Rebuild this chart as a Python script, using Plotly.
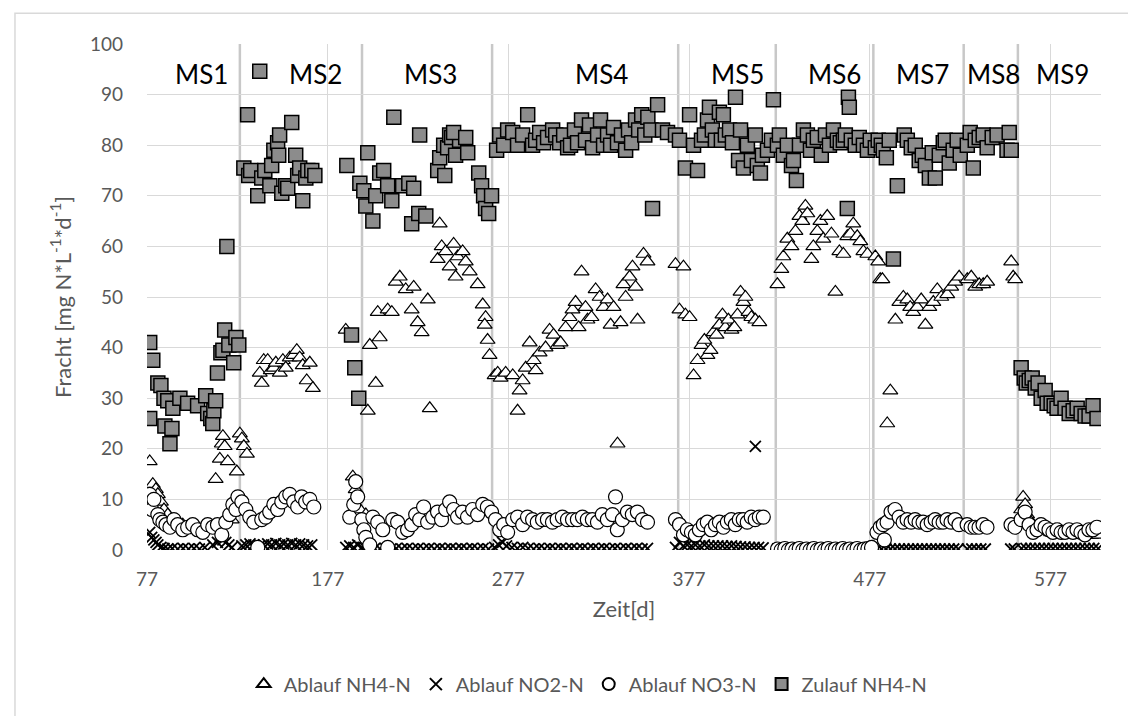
import plotly.graph_objects as go

# ---------------- data (day, value) ----------------
zul_day = [78.5, 80.2, 78.5, 83, 84.7, 86.4, 88.5, 86.9, 89.7, 90.8, 91.3, 95.2, 99.5, 105, 109.5, 110.6, 112.3, 113.4, 114, 115, 116, 117.9, 119, 120, 121.2, 122.3, 125, 126.2, 127.8,
           130.6, 132.7, 133.3, 134.4, 138.3, 139.4, 140.5, 142.2, 145, 146, 147.2, 149.3, 150.4, 149.9, 151.6, 153.8, 154.9, 157.1, 159.3, 160.4, 161.5, 163.2, 164.9, 166, 168.2, 169.9,
           187.6, 190.2, 192, 194.2, 194.8, 197, 199.2, 198.1, 202, 203.6, 205.8, 208, 210.2, 212.5, 213.6, 218.5, 221.9, 224.6, 223.5, 227.4, 227.9, 231.3, 237.9, 239, 241.2, 241.8, 243.4, 244.5, 245.6, 247.8, 250, 246.7, 253.4, 254.5, 260.6, 262.2, 263.3, 264.4, 266.1, 267.7,
           270.5, 272.2, 274.4, 276.6, 279.4, 282.1, 284.9, 287.7, 290.4, 292.1, 294.3, 296.5, 298.7, 301.5, 303.2, 305.4, 307.6, 309.8, 311.4, 313.6, 315.3, 317.5, 319.7, 321.9, 323.6, 326.4, 328, 329.7, 331.9, 333.6, 335.2, 337.4, 339.6, 341.9, 343.5, 345.2, 347.4, 349.1, 350.8, 352.5, 354.2, 355.9, 356.8, 359.6, 362.3, 365.1,
           369.5, 371.7, 375, 377.3, 379.5, 381.7, 383.9, 385.5, 387.2, 388.3, 389.9, 391.6, 393.8, 394.9, 396, 397.1, 399.4, 401, 402.7, 404.4, 405.5, 407.1, 409.3, 411.5, 413.7, 414.8, 416.5, 417.6, 420.4, 422.6, 423.7,
           425.9, 427, 429.2, 431.4, 433.7, 434.8, 436.4, 438.1, 440.3, 442.5, 444.2, 445.8, 448, 450.2, 452.5, 454.7, 456.9, 459.1, 460.7, 462.4, 463.5, 465.2, 465.7, 464.6, 466.8, 469, 471.2, 473.5, 475.7, 477.3,
           480.1, 481.7, 483.4, 484.5, 486.2, 487.8, 490.1, 492.3, 496.1, 497.8, 500, 502.2, 504.4, 506.1, 507.8, 510, 511.6, 513.3, 515.5, 517.7, 518.8, 521, 523.2, 525.4, 527.1,
           531, 532.6, 534.3, 535.4, 537.6, 539.8, 542, 544.8, 547.5, 553, 554.2, 555.3,
           560.8, 562.5, 563.6, 565.3, 566.9, 568.6, 570.2, 571.9, 574.1, 575.2, 577.4, 579.1, 580.7, 582.9, 585.1, 587.4, 589.6, 591.8, 594, 596.2, 598.4, 600.6, 602.8]
zul_val = [41, 37.5, 26, 33, 32.5, 30, 29.5, 24.5, 21, 24, 28, 30, 29, 28.5, 30.5, 27, 26, 25, 27.5, 29.5, 35, 39, 39.5, 43.5, 60, 40.5, 37, 42, 40.5,
           75.5, 86, 74, 75, 70, 94.6, 73.5, 75, 72, 76, 79, 80.5, 82, 78, 70.5, 72, 71.5, 84.5, 78, 74, 75.5, 69, 73.5, 75, 75, 74,
           76, 42.5, 36, 30, 72.5, 71, 78.5, 68, 65, 70, 74.5, 75, 72, 69, 85.5, 72, 72.5, 71.5, 64.5, 66.5, 82, 66, 75, 77.5, 80, 74, 79.5, 82, 81.5, 78, 81, 82.5, 81.5, 78.5, 74.5, 72, 70, 67.5, 66.5, 70,
           79, 82, 80, 83, 82.5, 80, 82, 86, 80, 81, 82.5, 80.5, 81.5, 83, 82, 80.5, 82, 79.5, 80, 83, 80.5, 85, 81, 84, 79.5, 82, 85, 80, 82, 80, 83.5, 80.5, 82, 79, 83, 80.5, 85, 83, 86, 82, 85.5, 83, 67.5, 88, 83, 82.5,
           82, 81, 75.5, 86, 80, 75, 81, 82, 85, 87.5, 83, 81, 86.5, 81, 86, 82, 83, 80.5, 89.5, 77, 83, 75.5, 80, 77, 82, 76, 74.5, 78, 79, 81, 89,
           80, 82, 78, 80, 76, 77, 73, 80, 83, 82, 79, 81, 81.5, 78, 82, 80, 83, 81, 80.5, 81, 82, 89.5, 87.5, 67.5, 81, 80, 81.5, 80, 79, 81,
           79.5, 81, 80, 79, 77.5, 81, 57.5, 72, 82, 81, 79.5, 80, 77, 78, 76, 73.5, 78.5, 73.5, 78, 80.5, 81, 76.5, 79, 81, 78,
           80, 82.5, 75.5, 81, 81.5, 82, 79.5, 81.5, 82, 79, 82.5, 79,
           36, 34, 33, 33.5, 34, 32, 33, 30, 31.5, 29, 29, 28.5, 28, 30, 28, 27, 27.5, 28, 27, 26.5, 26.5, 28.5, 26]

nh4_day = [78.5, 80.2, 81.9, 83, 84.7, 86.4, 88.5, 91.3, 94, 96.8, 99.5, 105, 110.6, 113.4, 115, 117.3, 118.4, 119, 120, 121.7, 123.9, 126.7, 128.4, 129.5, 130.6, 132.3,
           139.4, 140.5, 141.6, 143.8, 145.5, 147.2, 148.3, 150.5, 152.2, 153.8, 156, 158.2, 159.9, 161.5, 163.2, 165.4, 167.1, 168.8,
           187, 190.9, 192.5, 194.8, 198.1, 200.3, 199.2, 203.6, 205.8, 204.7, 210.2, 212.5, 214.7, 216.9, 220.2, 223.5, 224.6, 226.8, 229, 232.4, 233.5, 237.9, 240.1, 239, 242.3, 244.5, 246.7, 248.9, 247.8, 251.7, 253.4, 255.6, 260, 262.8, 264.4, 263.9, 265.5, 266.6,
           269.4, 271.1, 272.7, 275.5, 279.4, 282.1, 283.2, 284.9, 286.6, 288.8, 291, 292.1, 294.3, 297.6, 299.8, 302, 304.2, 305.9, 308.7, 310.9, 312.5, 314.2, 315.9, 317.5, 319.7, 320.8, 323, 325.3, 327.5, 329.7, 331.9, 333.6, 335.2, 337.4, 339.1, 340.7, 341.9, 344.1, 345.7, 347.4, 348.5, 351.8, 354,
           369.5, 371.7, 373.9, 375, 377.3, 379.5, 381.7, 383.9, 385.5, 387.2, 388.9, 390.5, 392.2, 393.8, 395.5, 397.1, 398.8, 400.5, 402.1, 403.8, 405.5, 407.1, 408.2, 409.9, 411.5, 413.7, 415.9,
           425.9, 428.1, 429.2, 431.4, 433.7, 435.9, 438.1, 439.7, 441.4, 442.5, 444.7, 445.8, 448, 449.7, 451.3, 453.5, 455.8, 458, 460.2, 462.4, 464.6, 466.3, 467.9, 470.1, 471.8, 473.5, 475.7,
           480.1, 481.7, 482.8, 484, 486.7, 488.4, 491.2, 493.4, 495.6, 497.8, 499.4, 501.1, 503.3, 505.5, 507.8, 510, 512.2, 514.4, 516.6, 519.9, 522.1, 524.3, 526.5,
           531, 533.2, 535.4, 537.6, 539.8, 542, 555.3, 556.4, 557.5,
           560.8, 561.9, 563, 564.1, 566.3, 568.6, 570.8, 573, 575.2, 577.4, 579.6, 581.8, 584, 586.2, 588.5, 590.7, 592.9, 595.1, 597.2, 599.5, 601.7, 603.9]
nh4_val = [17.5, 13, 12, 11, 9.5, 8, 7, 6, 5.5, 5, 4.5, 4.5, 5, 4.5, 14, 18, 21, 22.5, 20.5, 17.5, 6, 15.5, 23, 22, 20.5, 19,
           35, 33, 37.5, 37.5, 35.5, 36, 37, 35, 37.5, 36, 38, 38.5, 39.5, 38, 36.5, 33.5, 37, 32,
           43.5, 14.5, 12, 8, 7, 40.5, 27.5, 33, 42, 47, 47.5, 47, 53, 54, 51.5, 47.5, 52, 45, 43, 49.5, 28, 57.5, 60, 64.5, 59, 56, 60.5, 58, 54, 59, 57, 55, 52.5, 48.5, 46, 44.5, 41.5, 38.5,
           34.5, 35, 34, 35, 34.5, 27.5, 31.5, 33.5, 36, 41, 37.5, 35.5, 39, 40, 43.5, 42.5, 40.5, 41, 44, 46, 47.5, 49, 44, 55, 48, 45.5, 46, 51.5, 50, 48, 49.5, 44.5, 48, 21, 45, 52.5, 50, 54, 56, 52, 45.5, 58.5, 57,
           56.5, 47.5, 56, 46.5, 46, 34.5, 37.5, 40.5, 41.5, 38.5, 39.5, 43, 42.5, 44.5, 46.5, 44, 45.5, 43.5, 44, 46.5, 51, 49, 50, 47, 46, 45.5, 45,
           52.5, 55.5, 58, 61.5, 60, 63, 66, 65, 68, 66.5, 57.5, 60, 63, 65, 61.5, 66, 62.5, 51, 59, 58.5, 62, 62.5, 64.5, 62, 61, 59, 58.5,
           58, 57, 53.5, 53.5, 25, 31.5, 45.5, 49, 50, 49.5, 48, 47, 48, 49.5, 44.5, 48, 49, 51.5, 50, 50.5, 52, 53, 54,
           53.5, 54, 52, 52.5, 52.5, 53, 57, 54, 53.5,
           8, 10.5, 9, 7, 5.5, 4, 5, 4, 4.5, 3.5, 4, 4, 3.5, 3.5, 3, 3.5, 3, 3.5, 3, 3, 3.5, 3]

no3_day = [78.5, 79.6, 80.8, 83, 84.1, 85.8, 87.5, 89.7, 91.9, 94, 96.8, 99.5, 102.3, 105, 107.9, 110.6, 113.4, 116, 118.4, 120.6, 122.8, 124.5, 126.2, 127.3,
           129.5, 131.7, 133.9, 136.1, 138.3, 140.5, 142.7, 144.9, 147.2, 149.3, 151.6, 153.8, 156, 158.2, 160.4, 162.6, 164.8, 167.1, 169.3,
           189.2, 191.4, 192.5, 193.6, 195.9, 197, 198.1, 200.3, 202, 204.7, 207.5, 210.2, 213, 215.7, 218.5, 221.2, 223.5, 225.7, 227.9, 230.1, 232.3, 235.1, 237.8, 240, 242.3, 244.5, 246.7, 248.9, 251.6, 254.4, 257.2, 260, 262.8, 265.4, 267.7,
           269.9, 272.2, 274.4, 276.6, 279.4, 282.1, 284.9, 287.6, 290.4, 293, 295.9, 298.6, 301.4, 304, 306.9, 309.7, 312.5, 315.2, 318, 320.7, 323.5, 326.3, 329, 331.8, 334.6, 336.3, 337.3, 340.1, 342.9, 345.6, 348.4, 351.2, 354,
           369.5, 371.7, 373.9, 376, 378.3, 380.5, 382.7, 384.9, 387.1, 389.3, 391.6, 393.8, 396, 398.2, 400.4, 402.6, 404.8, 407, 409.2, 411.4, 413.6, 415.9, 418.1,
           426, 428, 430, 432, 434, 436, 438, 440, 442, 444, 446, 448, 450, 452, 454, 456, 458, 460, 462, 464, 466, 468, 470, 472, 474, 476, 478,
           481, 482.8, 484.5, 486.6, 488.8, 491, 493.3, 495.5, 497.7, 499.9, 502.1, 504.3, 506.5, 508.8, 511, 513.2, 515.4, 517.6, 519.8, 522, 524.2, 526.4, 485.1,
           530.9, 533.1, 535.3, 537.5, 539.7, 541.9, 555.2, 557.4,
           560.8, 563, 565.2, 567.4, 569.6, 571.8, 574, 576.2, 578.4, 580.7, 582.9, 585.1, 587.3, 589.5, 591.7, 593.9, 596.1, 598.3, 600.5, 602.7]
no3_val = [11, 8, 10, 7, 6, 5.5, 5, 4.5, 6, 5, 4, 4.5, 5, 4, 3.5, 5, 4.5, 5, 3, 5.5, 7, 9, 8, 10.5,
           9.5, 8, 6.5, 5.5, 0.5, 6, 6.5, 7.5, 9, 8, 9.5, 10.5, 11, 9.5, 8.5, 10.5, 9.5, 10, 8.5,
           6.5, 9, 13.5, 10.5, 6, 4, 2.5, 1, 6.5, 5.5, 4, 0.5, 6, 5.5, 3.5, 4, 5, 7, 6, 8.5, 5.5, 6.5, 7.5, 6, 8, 9.5, 8, 6.5, 7.5, 6.5, 8, 7, 9, 8.5, 7.5,
           6, 4, 5, 3.5, 6, 6.5, 5, 6.5, 6, 5.5, 6, 6, 5.5, 6, 6.5, 6, 6, 6, 6.5, 6, 6, 5.5, 7, 6, 7, 10.5, 4, 6, 7.5, 7, 7.5, 6, 5.5,
           6, 5, 3, 4, 3.5, 3, 4, 5, 5.5, 4, 5, 5.5, 4.5, 5.5, 6, 5, 6, 6, 5.5, 6.5, 6, 6.5, 6.5,
           0.2, 0, 0.3, 0, 0.2, 0, 0.3, 0, 0.2, 0, 0.3, 0, 0.2, 0, 0.3, 0, 0.2, 0, 0.3, 0, 0.2, 0, 0.3, 0, 0.2, 0.3, 0.5,
           3.5, 4.5, 5, 5.5, 7.5, 8, 6.5, 5.5, 6, 5.5, 6, 5.5, 5.5, 5, 5.5, 6, 5.5, 5.5, 6, 5.5, 6, 5, 2,
           5, 4.5, 4.5, 4.5, 5, 4.5, 5, 4.5,
           6, 7.5, 5, 3.5, 4, 5, 4.5, 4, 3.5, 4, 3.5, 3.5, 4, 3.5, 4, 3.5, 3, 4, 4, 4.5]

no2_day = [78.5, 79.6, 80.8, 82, 83, 84.7, 86.4, 88.5, 91, 94, 97, 100, 103, 106, 109, 113.4, 116, 117.3, 119, 120.6, 122.3, 124,
           129.5, 131.7, 134, 136.1, 139.4, 141.6, 143.8, 146, 148.3, 150.5, 152.7, 154.9, 157.1, 159.3, 161.5, 163.7, 165.9, 168.2,
           187, 189.2, 191.4, 193.6, 195.9, 198, 200.3, 203, 206, 209, 212, 215, 218, 221, 224, 227, 230, 233, 236, 239, 242, 245, 248, 251, 254, 257, 260, 263, 266,
           269.4, 271.6, 273.8, 276, 279, 282, 285, 288, 291, 294, 297, 300, 303, 306, 309, 312, 315, 318, 321, 324, 327, 330, 333, 336, 339, 342, 345, 348, 351, 354,
           369.5, 371.7, 373.9, 376, 378.3, 380.5, 383, 385.5, 388, 390.5, 393, 395.5, 398, 400.5, 403, 405.5, 408, 410.5, 413, 413.7, 415.5, 418,
           426, 428.5, 431, 433.5, 436, 438.5, 441, 443.5, 446, 448.5, 451, 453.5, 456, 458.5, 461, 463.5, 466, 468.5, 471, 473.5, 476, 478,
           481, 483.5, 486, 488.5, 491, 493.5, 496, 498.5, 501, 503.5, 506, 508.5, 511, 513.5, 516, 518.5, 521, 523.5, 526,
           531, 533.5, 536, 538.5, 541, 555, 557,
           561, 563.5, 566, 568.5, 571, 573.5, 576, 578.5, 581, 583.5, 586, 588.5, 591, 593.5, 596, 598.5, 601, 603.5]
no2_val = [3.5, 2.5, 2, 1.5, 1, 0.5, 0.3, 0.2, 0.3, 0.2, 0.3, 0.2, 0.3, 0.2, 0.5, 1, 1.5, 2.5, 2, 1.5, 1, 0.5,
           0.8, 1, 1.2, 1, 0.8, 1, 1.2, 1, 1.3, 1, 1.2, 1, 1.3, 1, 1.2, 1, 0.8, 1,
           0.5, 0.8, 0.5, 1, 0.5, 0.3, 0.2, 0.3, 0.2, 0.3, 0.2, 0.3, 0.2, 0.3, 0.2, 0.3, 0.2, 0.3, 0.2, 0.3, 0.2, 0.3, 0.2, 0.3, 0.2, 0.3, 0.2, 0.3, 0.2,
           0.5, 1, 1.5, 0.8, 0.5, 0.3, 0.5, 0.3, 0.2, 0.3, 0.2, 0.3, 0.2, 0.3, 0.2, 0.3, 0.2, 0.3, 0.2, 0.3, 0.2, 0.3, 0.2, 0.3, 0.2, 0.3, 0.2, 0.3, 0.2, 0.3,
           0.5, 1.5, 0.8, 1, 0.8, 1, 0.8, 1, 0.8, 0.8, 0.8, 0.8, 0.7, 0.8, 0.7, 0.6, 0.6, 0.5, 0.5, 20.5, 0.5, 0.4,
           0.2, 0.1, 0.2, 0.1, 0.2, 0.1, 0.2, 0.1, 0.2, 0.1, 0.2, 0.1, 0.2, 0.1, 0.2, 0.1, 0.2, 0.1, 0.2, 0.1, 0.2, 0.1,
           0.2, 0.2, 0.2, 0.2, 0.2, 0.2, 0.2, 0.2, 0.2, 0.2, 0.2, 0.2, 0.2, 0.2, 0.2, 0.2, 0.2, 0.2, 0.2,
           0.2, 0.2, 0.2, 0.2, 0.2, 0.2, 0.2,
           0.3, 0.3, 0.3, 0.3, 0.3, 0.3, 0.3, 0.3, 0.3, 0.3, 0.3, 0.3, 0.3, 0.3, 0.3, 0.3, 0.3, 0.3]

phase_names = ["MS1", "MS2", "MS3", "MS4", "MS5", "MS6", "MS7", "MS8", "MS9"]
phase_label_day = [107, 170, 234, 328.5, 404, 457.5, 506, 545.5, 583.5]
phase_bounds = [128.4, 196, 268, 371, 425, 479, 529, 559]
x_ticks = [77, 177, 277, 377, 477, 577]

FONT = "Lato, 'Open Sans', sans-serif"
GRAY = "#595959"

fig = go.Figure()
fig.add_trace(go.Scatter(x=nh4_day, y=nh4_val, mode="markers", name="Ablauf NH4-N",
                         marker=dict(symbol="triangle-up", size=13, color="white",
                                     line=dict(color="black", width=1.2))))
fig.add_trace(go.Scatter(x=no2_day, y=no2_val, mode="markers", name="Ablauf NO2-N",
                         marker=dict(symbol="x-thin", size=11, color="black",
                                     line=dict(color="black", width=1.8))))
fig.add_trace(go.Scatter(x=no3_day, y=no3_val, mode="markers", name="Ablauf NO3-N",
                         marker=dict(symbol="circle", size=14, color="white",
                                     line=dict(color="black", width=1.2))))
fig.add_trace(go.Scatter(x=zul_day, y=zul_val, mode="markers", name="Zulauf NH4-N",
                         marker=dict(symbol="square", size=14, color="#8c8c8c",
                                     line=dict(color="black", width=1.5))))

shapes = []
for b in phase_bounds:
    shapes.append(dict(type="line", xref="x", yref="y", x0=b, x1=b, y0=0, y1=100,
                       line=dict(color="#c8c8c8", width=2.5), layer="below"))
# outer chart border (left and top edges visible)
shapes.append(dict(type="rect", xref="paper", yref="paper", x0=-0.1384, x1=1.2, y0=-0.5, y1=1.061,
                   line=dict(color="#d9d9d9", width=1.5), layer="below"))

annotations = [dict(x=d, y=94, xref="x", yref="y", text=n, showarrow=False,
                    font=dict(family=FONT, size=26, color="black"))
               for n, d in zip(phase_names, phase_label_day)]

fig.update_layout(
    width=1136, height=716,
    margin=dict(l=139, r=43, t=36, b=174),
    paper_bgcolor="white", plot_bgcolor="white",
    font=dict(family=FONT, color=GRAY, size=19),
    showlegend=True,
    legend=dict(orientation="h", x=0.462, xanchor="center", y=-0.265, yanchor="middle",
                font=dict(size=20, color=GRAY), itemsizing="constant"),
    shapes=shapes, annotations=annotations,
    xaxis=dict(range=[77, 605], tickvals=x_ticks, showgrid=True, gridcolor="#d9d9d9", gridwidth=1,
               zeroline=False, showline=False, ticks="", ticklabelstandoff=16,
               tickfont=dict(size=19, color=GRAY),
               title=dict(text="Zeit[d]", font=dict(size=22, color=GRAY), standoff=12)),
    yaxis=dict(range=[0, 100], dtick=10, showgrid=True, gridcolor="#d9d9d9", gridwidth=1,
               zeroline=False, showline=False, ticks="", ticklabelstandoff=23,
               tickfont=dict(size=19, color=GRAY),
               title=dict(text="Fracht [mg N*L<sup>-1</sup>*d<sup>-1</sup>]", font=dict(size=22, color=GRAY), standoff=12)),
)
fig.write_html("out.html")
